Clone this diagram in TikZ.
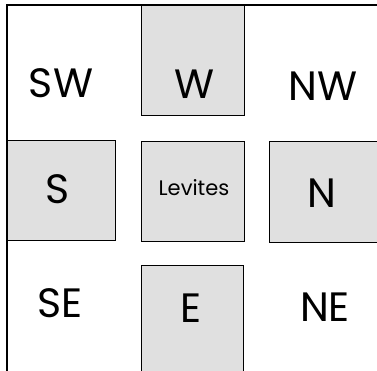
\documentclass[tikz,border=0pt]{standalone}
\usepackage{fontspec}
\setmainfont{Poppins}
\begin{document}
\begin{tikzpicture}[x=1pt,y=-1pt,
  cell/.style={draw=black,line width=0.9pt,fill=black!12,rectangle,inner sep=0pt,anchor=north west},
  biglabel/.style={font=\fontsize{41}{43}\selectfont,inner sep=0pt,anchor=center},
  smalllabel/.style={font=\fontsize{21}{23}\selectfont,inner sep=0pt,anchor=center}]
\useasboundingbox (0,0) rectangle (377,371);
\begin{scope}
\clip (0,0) rectangle (377,371);
% shaded cells
\node[cell,minimum width=103pt,minimum height=110pt] (boxW) at (141,5) {};
\node[cell,minimum width=108pt,minimum height=100pt] (boxS) at (7,140) {};
\node[cell,minimum width=103pt,minimum height=100pt] (boxL) at (141,141) {};
\node[cell,minimum width=120pt,minimum height=101pt] (boxN) at (269,141) {};
\node[cell,minimum width=102pt,minimum height=120pt] (boxE) at (141,265) {};
% outer frame (left and top)
\draw[line width=1.4pt] (7,380) -- (7,5) -- (385,5);
\end{scope}
% labels
\node[biglabel] (tSW) at (61,83) {SW};
\node[biglabel] (tW)  at (195,84) {W};
\node[biglabel] (tNW) at (323,86) {NW};
\node[biglabel] (tS)  at (58,189) {S};
\node[smalllabel] (tL) at (194,188) {Levites};
\node[biglabel] (tN)  at (322,193) {N};
\node[biglabel] (tSE) at (60,303) {SE};
\node[biglabel] (tE)  at (191,308) {E};
\node[biglabel] (tNE) at (325,307) {NE};
\end{tikzpicture}
\end{document}
